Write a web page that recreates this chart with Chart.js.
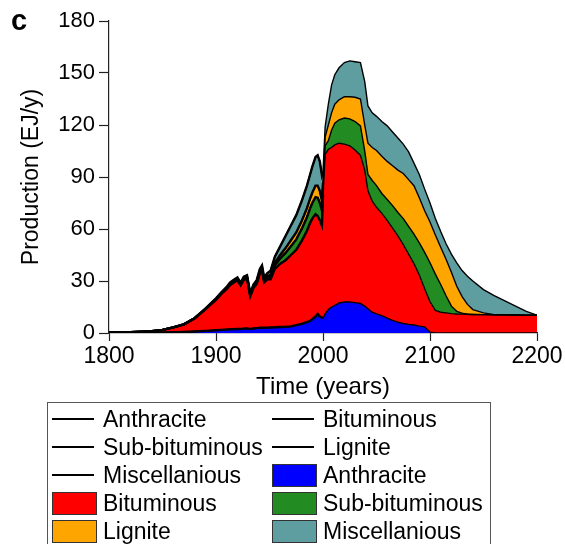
<!DOCTYPE html>
<html>
<head>
<meta charset="utf-8">
<script src="https://cdn.jsdelivr.net/npm/chart.js@4.4.1/dist/chart.umd.min.js"></script>
<style>
    body { margin: 0; background: #fff; overflow: hidden; }
    #wrap { position: relative; width: 565px; height: 544px; font-family: 'Liberation Sans', Arial, sans-serif; }
    #panel { position: absolute; left: 11px; top: 6px; font-size: 29px; font-weight: bold; line-height: 1; }
    #legend { position: absolute; left: 47px; top: 402px; width: 444px; height: 160px; border: 1.5px solid #555; box-sizing: border-box; }
    .item { position: absolute; height: 28px; line-height: 28px; font-size: 23px; color: #000; white-space: nowrap; }
    .sym { position: absolute; left: 0; }
    .sym.line { top: 13px; width: 42px; height: 2px; background: #000; }
    .sym.box { top: 3px; width: 43px; height: 21px; border: 1px solid #333; }
    .txt { position: absolute; left: 51px; top: 0; }
</style>
</head>
<body>
<div id="wrap">
    <canvas id="chart" width="565" height="544"></canvas>
    <div id="panel">c</div>
    <div id="legend"></div>
</div>
<script>
// years of the model run (history up to 2000, projection after)
const years = [1800, 1820, 1840, 1850, 1860, 1870, 1880, 1890, 1900, 1905, 1910, 1913, 1916, 1920, 1923, 1926, 1929, 1932, 1935, 1938,
    1941, 1943, 1945, 1948, 1951, 1955, 1960, 1965, 1970, 1975, 1980, 1985, 1988, 1990, 1993, 1995, 1997, 1999, 2000, 2002, 2005,
    2008, 2011, 2015, 2020, 2025, 2030, 2035, 2039, 2042, 2046, 2050, 2055, 2060, 2065, 2070, 2075, 2080, 2085, 2090, 2095,
    2100, 2105, 2110, 2115, 2120, 2125, 2130, 2135, 2140, 2150, 2160, 2170, 2180, 2190, 2200];

// production, EJ/y
const anthracite = [0.1, 0.15, 0.2, 0.3, 0.4, 0.6, 0.9, 1.2, 1.6, 1.8, 2.0, 2.2, 2.2, 2.4, 2.3, 2.5, 2.6, 2.4, 2.6, 2.8,
    3.0, 3.1, 3.0, 3.1, 3.2, 3.3, 3.5, 3.6, 3.8, 4.5, 5.3, 6.3, 7.0, 8.0, 9.5, 11, 9.5, 9.0, 8.4, 11, 13.5,
    15, 16, 17.3, 17.9, 17.9, 17.5, 17, 15.5, 14, 12, 11, 10, 8.6, 7.3, 6.3, 5.5, 5.0, 4.6, 4.0, 3.5,
    0.5, 0, 0, 0, 0, 0, 0, 0, 0, 0, 0, 0, 0, 0, 0];
const bituminous = [0.2, 0.35, 0.8, 1.5, 2.8, 4.4, 7.6, 12.4, 17.6, 20.7, 23.4, 25.4, 26.7, 28, 25.1, 28.2, 28.8, 18.8, 23.4, 25.5,
    31.4, 33.1, 26.2, 27.9, 27.8, 33.7, 36.5, 38.4, 41.2, 43.5, 47.7, 52.7, 56.6, 58, 59, 56.5, 55.5, 53, 71.6, 92, 92.5,
    92, 92.5, 92.2, 91.1, 90.1, 88, 85.5, 78.5, 68, 64, 61.5, 59, 56.4, 53.2, 49.7, 45.5, 40.5, 35.4, 29.5, 22,
    17.5, 13, 12, 11.6, 11.2, 11, 10.9, 10.8, 10.7, 10.6, 10.5, 10.5, 10.4, 10.3, 10.3];
const subBituminous = [0, 0, 0, 0, 0, 0, 0, 0.12, 0.24, 0.3, 0.36, 0.42, 0.45, 0.48, 0.48, 0.54, 0.57, 0.54, 0.6, 0.66,
    0.78, 0.84, 0.84, 1.05, 1.5, 2.1, 3, 4.2, 5.1, 6, 6.9, 7.8, 8.4, 9, 9.9, 10.5, 10.2, 8.7, 3.9, 5, 5,
    10, 12.5, 13.5, 15, 15.5, 16.5, 17, 11, 9.5, 12, 12.5, 11.5, 12, 13, 13.5, 15, 16, 17, 18.5, 21,
    22.5, 21, 16, 9.9, 4.3, 1.5, 0.6, 0, 0, 0, 0, 0, 0, 0, 0];
const lignite = [0, 0, 0, 0, 0, 0, 0, 0.08, 0.16, 0.2, 0.24, 0.28, 0.3, 0.32, 0.32, 0.36, 0.38, 0.36, 0.4, 0.44,
    0.52, 0.56, 0.56, 0.7, 1, 1.4, 2, 2.8, 3.4, 4, 4.6, 5.2, 5.6, 6, 6.6, 7, 6.8, 5.8, 2.6, 5, 9,
    10, 11, 11.5, 12.3, 12.8, 14, 15.5, 15, 18, 19, 20.3, 21.5, 22, 23, 24.5, 26, 27, 28, 26, 24,
    23.5, 22.5, 21.5, 21, 19.5, 14.5, 9.5, 5.7, 2.8, 1, 0.1, 0, 0, 0, 0];
const miscellanious = [0, 0, 0, 0, 0, 0, 0, 0.2, 0.4, 0.5, 0.6, 0.7, 0.75, 0.8, 0.8, 0.9, 0.95, 0.9, 1, 1.1,
    1.3, 1.4, 1.4, 1.75, 2.5, 3.5, 5, 7, 8.5, 10, 11.5, 13, 14, 15, 16.5, 17.5, 17, 14.5, 6.5, 6, 12,
    16, 17, 18.5, 19.7, 20.7, 20.5, 21, 25, 21.5, 20, 19.7, 20, 20.5, 19.5, 18.5, 17, 16, 13, 13.5, 12.5,
    11, 9.5, 9, 9, 10.5, 13.5, 15, 16.3, 16.5, 13.4, 10.9, 8, 5.1, 2.2, 0];

const seriesNames = ['Anthracite', 'Bituminous', 'Sub-bituminous', 'Lignite', 'Miscellanious'];
const seriesValues = [anthracite, bituminous, subBituminous, lignite, miscellanious];
const fillColors = ['#0000ff', '#ff0000', '#228b22', '#ffa500', '#5f9ea0'];
const historyEnd = 2000;

const xTicks = [1800, 1900, 2000, 2100, 2200];
const yTicks = [0, 30, 60, 90, 120, 150, 180];

const toPoints = (values, maxYear) => years
    .map((year, i) => ({ x: year, y: values[i] }))
    .filter((p) => maxYear === undefined || p.x <= maxYear);

const fillSets = seriesNames.map((name, i) => ({
    label: name,
    data: toPoints(seriesValues[i]),
    backgroundColor: fillColors[i],
    borderColor: '#000',
    borderWidth: 1.4,
    fill: i === 0 ? 'origin' : '-1',
    pointRadius: 0,
    tension: 0,
}));

const historySets = seriesNames.map((name, i) => ({
    label: name,
    data: toPoints(seriesValues[i], historyEnd),
    stack: 'history',
    borderColor: '#000',
    borderWidth: 2.4,
    fill: false,
    pointRadius: 0,
    tension: 0,
}));

const fontFamily = "'Liberation Sans', Arial, sans-serif";

new Chart(document.getElementById('chart'), {
    type: 'line',
    data: { datasets: [...fillSets, ...historySets] },
    options: {
        responsive: false,
        animation: false,
        devicePixelRatio: 1,
        layout: { padding: { left: 0, right: 28, top: 21, bottom: 141 } },
        plugins: {
            legend: { display: false },
            tooltip: { enabled: false },
            filler: { drawTime: 'beforeDatasetsDraw' },
        },
        scales: {
            x: {
                type: 'linear',
                min: xTicks[0],
                max: xTicks[xTicks.length - 1],
                afterBuildTicks: (scale) => { scale.ticks = xTicks.map((v) => ({ value: v })); },
                afterFit: (scale) => { scale.height = 70; },
                ticks: { color: '#000', font: { family: fontFamily, size: 23 }, padding: 2, maxRotation: 0, callback: (v) => String(v) },
                grid: { drawOnChartArea: false, tickLength: 8, tickColor: '#222', tickWidth: 1.2 },
                border: { display: true, color: '#222', width: 1.2 },
                title: { display: true, text: 'Time (years)', color: '#000', font: { family: fontFamily, size: 24 }, padding: { top: 0, bottom: 1 } },
            },
            y: {
                stacked: true,
                min: yTicks[0],
                max: yTicks[yTicks.length - 1],
                afterBuildTicks: (scale) => { scale.ticks = yTicks.map((v) => ({ value: v })); },
                afterFit: (scale) => { scale.width = 109; },
                ticks: { color: '#000', font: { family: fontFamily, size: 22 }, padding: 4 },
                grid: { drawOnChartArea: false, tickLength: 10, tickColor: '#222', tickWidth: 1.2 },
                border: { display: true, color: '#222', width: 1.2 },
                title: { display: true, text: 'Production (EJ/y)', color: '#000', font: { family: fontFamily, size: 23 }, padding: { top: 18, bottom: 0 } },
            },
        },
    },
});

// two-column legend: history lines first, then the filled projections
const legendEl = document.getElementById('legend');
const legendItems = [
    ...seriesNames.map((name) => ({ name, kind: 'line' })),
    ...seriesNames.map((name, i) => ({ name, kind: 'box', color: fillColors[i] })),
];
legendItems.forEach((item, k) => {
    const row = Math.floor(k / 2);
    const col = k % 2;
    const el = document.createElement('div');
    el.className = 'item';
    el.style.left = (col === 0 ? 4 : 224) + 'px';
    el.style.top = (2 + row * 28) + 'px';
    const sym = document.createElement('span');
    sym.className = 'sym ' + item.kind;
    if (item.color) sym.style.background = item.color;
    const txt = document.createElement('span');
    txt.className = 'txt';
    txt.textContent = item.name;
    el.appendChild(sym);
    el.appendChild(txt);
    legendEl.appendChild(el);
});
</script>
</body>
</html>
